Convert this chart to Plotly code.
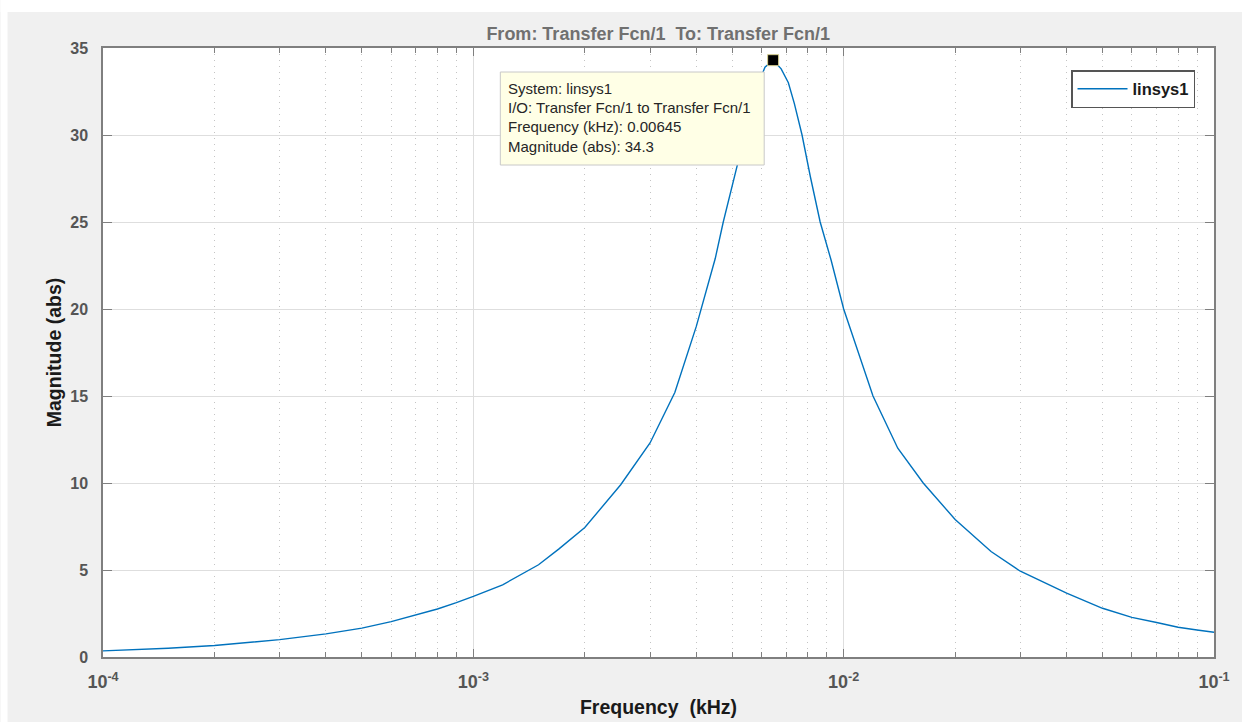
import plotly.graph_objects as go

# Magnitude response samples (frequency in kHz, magnitude in abs units)
freq_khz = [1e-4, 1.5e-4, 2e-4, 3e-4, 4e-4, 5e-4, 6e-4, 7e-4, 8e-4, 9e-4,
            1e-3, 1.2e-3, 1.5e-3, 1.7e-3, 2e-3, 2.5e-3, 3e-3, 3.5e-3, 4e-3,
            4.5e-3, 4.73e-3, 5.18e-3, 5.5e-3, 5.8e-3, 6.13e-3,
            6.45e-3, 6.78e-3, 7.09e-3, 7.36e-3, 7.72e-3, 8.13e-3, 8.64e-3,
            9.25e-3, 1e-2, 1.2e-2, 1.4e-2, 1.5e-2, 1.64e-2, 2e-2, 2.5e-2,
            3e-2, 4e-2, 5e-2, 6e-2, 7e-2, 8e-2, 9e-2, 1e-1]
magnitude = [0.35, 0.5, 0.66, 1.0, 1.33, 1.66, 2.03, 2.4, 2.76, 3.12,
             3.48, 4.15, 5.3, 6.2, 7.44, 9.9, 12.3, 15.2, 19.0,
             22.9, 25.0, 28.4, 31.0, 32.6, 33.9,
             34.3, 33.8, 33.0, 31.8, 30.0, 27.6, 25.0,
             22.8, 20.0, 15.0, 12.0, 11.1, 10.0, 7.9, 6.06,
             4.93, 3.67, 2.80, 2.28, 1.98, 1.71, 1.55, 1.42]

# Data tip
peak_freq = 0.00645
peak_mag = 34.3
tip_lines = ["System: linsys1",
             "I/O: Transfer Fcn/1 to Transfer Fcn/1",
             f"Frequency (kHz): {peak_freq}",
             f"Magnitude (abs): {peak_mag}"]

# Axis ticks
x_tickvals = [1e-4, 1e-3, 1e-2, 1e-1]
x_ticktext = ["10<sup>-4</sup>", "10<sup>-3</sup>", "10<sup>-2</sup>", "10<sup>-1</sup>"]
y_tickvals = [0, 5, 10, 15, 20, 25, 30, 35]

LINE = "#0072BD"
TICK_GRAY = "#555555"
FONT = "Liberation Sans, Arial, sans-serif"

fig = go.Figure()
fig.add_trace(go.Scatter(
    x=freq_khz, y=magnitude, mode="lines", name="linsys1",
    line=dict(color=LINE, width=1.4),
))
fig.add_trace(go.Scatter(
    x=[peak_freq], y=[peak_mag], mode="markers", showlegend=False,
    marker=dict(symbol="square", size=11, color="black",
                line=dict(color="#d8d090", width=1)),
    cliponaxis=False,
))

W, H = 1242, 722
ml, mr, mt, mb = 102.5, 28, 48, 65
pw, ph = W - ml - mr, H - mt - mb


def px_to_paper(x, y):
    return (x - ml) / pw, 1 - (y - mt) / ph


shapes = []
# white strips along the top and left edges of the window
x0, y0 = px_to_paper(0, 0)
x1, y1 = px_to_paper(W, 12)
shapes.append(dict(type="rect", xref="paper", yref="paper", x0=x0, x1=x1, y0=y1, y1=y0,
                   fillcolor="white", line=dict(width=0), layer="below"))
x0, y0 = px_to_paper(0, 0)
x1, y1 = px_to_paper(7, H)
shapes.append(dict(type="rect", xref="paper", yref="paper", x0=x0, x1=x1, y0=y1, y1=y0,
                   fillcolor="white", line=dict(width=0), layer="below"))

# data tip box
bx0, by0 = px_to_paper(500, 72)
bx1, by1 = px_to_paper(764, 165)
shapes.append(dict(type="rect", xref="paper", yref="paper", x0=bx0, x1=bx1, y0=by1, y1=by0,
                   fillcolor="#ffffe6", line=dict(color="#c8c8c8", width=1), layer="above"))

annotations = []
for i, txt in enumerate(tip_lines):
    ax, ay = px_to_paper(506, 88 + i * 19.5)
    annotations.append(dict(text=txt, xref="paper", yref="paper", x=ax, y=ay,
                            xanchor="left", yanchor="middle", showarrow=False,
                            font=dict(family=FONT, size=15, color="#262626")))

fig.update_layout(
    width=W, height=H,
    margin=dict(l=ml, r=mr, t=mt, b=mb, autoexpand=False),
    paper_bgcolor="#f0f0f0",
    plot_bgcolor="white",
    font=dict(family=FONT),
    title=dict(text="From: Transfer Fcn/1  To: Transfer Fcn/1",
               x=(ml + pw / 2) / W, xanchor="center",
               y=1 - 34 / H, yanchor="middle",
               font=dict(family=FONT, size=18, color="#707070", weight="bold")),
    xaxis=dict(
        type="log", range=[-4, -1], automargin=False,
        tickvals=x_tickvals, ticktext=x_ticktext,
        tickfont=dict(family=FONT, size=18, color=TICK_GRAY, weight="bold"),
        ticks="inside", ticklen=8, tickcolor="#7f7f7f", tickwidth=1,
        ticklabelstandoff=8,
        showline=True, linecolor="#7f7f7f", linewidth=1.5, mirror="ticks",
        showgrid=True, gridcolor="#dedede", gridwidth=1,
        minor=dict(dtick="D1", ticks="inside", ticklen=5, tickcolor="#7f7f7f",
                   showgrid=True, gridcolor="#c4c4c4", griddash="1px,5px", gridwidth=1),
        zeroline=False,
        title=dict(text="Frequency \u00a0(kHz)", standoff=9,
                   font=dict(family=FONT, size=19.5, color="#1a1a1a", weight="bold")),
    ),
    yaxis=dict(
        range=[0, 35], tickvals=y_tickvals, automargin=False,
        tickfont=dict(family=FONT, size=16, color=TICK_GRAY, weight="bold"),
        ticks="inside", ticklen=9, tickcolor="#7f7f7f", tickwidth=1,
        showline=True, linecolor="#7f7f7f", linewidth=1.5, mirror="ticks",
        showgrid=True, gridcolor="#dedede", gridwidth=1,
        zeroline=False, ticklabelstandoff=10,
        title=dict(text="Magnitude (abs)", standoff=3,
                   font=dict(family=FONT, size=19.5, color="#1a1a1a", weight="bold")),
    ),
    legend=dict(
        x=px_to_paper(1195, 0)[0], xanchor="right",
        y=px_to_paper(0, 70)[1], yanchor="top",
        bgcolor="white", bordercolor="#555555", borderwidth=1.5,
        font=dict(family=FONT, size=16.5, color="#1a1a1a", weight="bold"),
        itemwidth=50,
    ),
    shapes=shapes,
    annotations=annotations,
)

fig.write_html("out.html")
